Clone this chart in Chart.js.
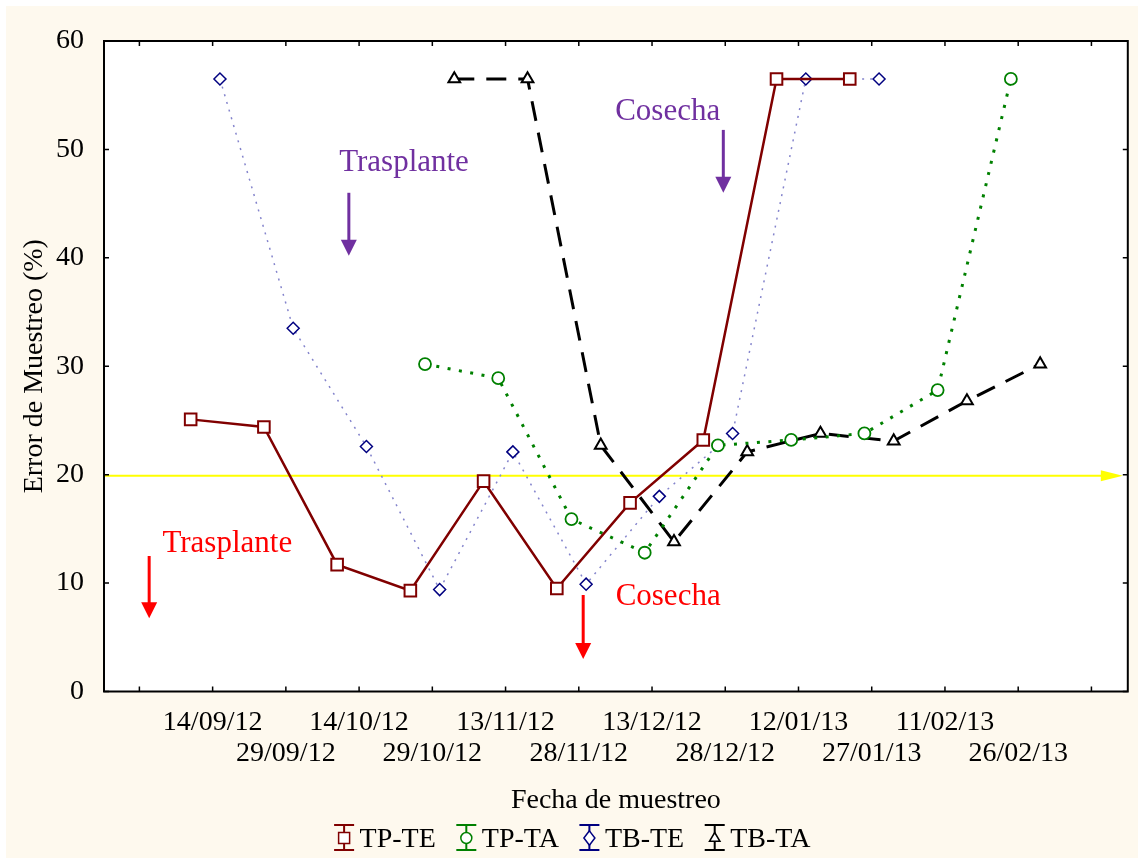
<!DOCTYPE html>
<html>
<head>
<meta charset="utf-8">
<title>Error de Muestreo</title>
<script src="https://cdn.jsdelivr.net/npm/chart.js"></script>
<style>
  html, body { margin: 0; padding: 0; background: #fff; }
  #wrap { width: 1138px; height: 858px; }
</style>
</head>
<body>
<div id="wrap"><canvas id="grafico" width="1138" height="858"></canvas></div>
<script>
// fechas de muestreo (dd/mm/aa) y error de muestreo (%) por tratamiento
var fechasTPTE = ['09/09/12', '24/09/12', '09/10/12', '24/10/12', '08/11/12', '23/11/12', '08/12/12', '23/12/12', '07/01/13', '22/01/13'];
var errorTPTE  = [25.1, 24.4, 11.7, 9.3, 19.4, 9.5, 17.4, 23.2, 56.5, 56.5];

var fechasTPTA = ['27/10/12', '11/11/12', '26/11/12', '11/12/12', '26/12/12', '10/01/13', '25/01/13', '09/02/13', '24/02/13'];
var errorTPTA  = [30.2, 28.9, 15.9, 12.8, 22.7, 23.2, 23.8, 27.8, 56.5];

var fechasTBTE = ['15/09/12', '30/09/12', '15/10/12', '30/10/12', '14/11/12', '29/11/12', '14/12/12', '29/12/12', '13/01/13', '28/01/13'];
var errorTBTE  = [56.5, 33.5, 22.6, 9.4, 22.1, 9.9, 18.0, 23.8, 56.5, 56.5];

var fechasTBTA = ['02/11/12', '17/11/12', '02/12/12', '17/12/12', '01/01/13', '16/01/13', '31/01/13', '15/02/13', '02/03/13'];
var errorTBTA  = [56.5, 56.5, 22.7, 13.8, 22.1, 23.8, 23.1, 26.8, 30.2];

var etiquetasX = ['14/09/12', '29/09/12', '14/10/12', '29/10/12', '13/11/12', '28/11/12',
                  '13/12/12', '28/12/12', '12/01/13', '27/01/13', '11/02/13', '26/02/13'];
var umbral = 20;

// notas: posicion en dias desde 30/08/12 y en % de error
var notas = [
    {texto: 'Trasplante', color: '#7030a0', tx: 54.2, ty: 48.0, fx: 42.9, f1: 46.0, f2: 40.2},
    {texto: 'Cosecha', color: '#7030a0', tx: 108.2, ty: 52.7, fx: 119.6, f1: 51.8, f2: 46.0},
    {texto: 'Trasplante', color: '#ff0000', tx: 18.0, ty: 12.9, fx: 2.0, f1: 12.5, f2: 6.75},
    {texto: 'Cosecha', color: '#ff0000', tx: 108.3, ty: 8.0, fx: 90.9, f1: 8.9, f2: 3.0}
];

var FUENTE = "'Liberation Serif', 'Times New Roman', serif";
var ORIGEN = Date.UTC(2012, 7, 30);

function dia(f) {
    var p = f.split('/');
    // muestras tomadas a mediodia
    return (Date.UTC(2000 + Number(p[2]), Number(p[1]) - 1, Number(p[0]), 12) - ORIGEN) / 864e5;
}
function fecha(d) {
    var t = new Date(ORIGEN + Math.round(d) * 864e5);
    return ('0' + t.getUTCDate()).slice(-2) + '/' + ('0' + (t.getUTCMonth() + 1)).slice(-2) + '/' + String(t.getUTCFullYear()).slice(-2);
}
function puntos(fechas, valores) {
    return fechas.map(function (f, i) { return {x: dia(f), y: valores[i]}; });
}

Chart.defaults.font.family = FUENTE;
Chart.defaults.font.size = 28;
Chart.defaults.color = '#000';

var fondo = {
    id: 'fondo',
    beforeDraw: function (chart) {
        var ctx = chart.ctx, ca = chart.chartArea;
        ctx.save();
        ctx.fillStyle = '#fff';
        ctx.fillRect(0, 0, chart.width, chart.height);
        ctx.fillStyle = '#fef9ee';
        ctx.fillRect(6, 6, chart.width - 6, chart.height - 6);
        ctx.fillStyle = '#fff';
        ctx.fillRect(ca.left, ca.top, ca.right - ca.left, ca.bottom - ca.top);
        ctx.restore();
    }
};

var lineaUmbral = {
    id: 'lineaUmbral',
    beforeDatasetsDraw: function (chart) {
        var ctx = chart.ctx, ca = chart.chartArea;
        var y = chart.scales.y.getPixelForValue(umbral) + 1;
        var punta = ca.right - 5;
        ctx.save();
        ctx.strokeStyle = '#ffff00';
        ctx.fillStyle = '#ffff00';
        ctx.lineWidth = 2;
        ctx.beginPath();
        ctx.moveTo(ca.left, y);
        ctx.lineTo(punta - 18, y);
        ctx.stroke();
        ctx.beginPath();
        ctx.moveTo(punta, y);
        ctx.lineTo(punta - 22, y - 5.5);
        ctx.lineTo(punta - 22, y + 5.5);
        ctx.closePath();
        ctx.fill();
        ctx.restore();
    }
};

var marco = {
    id: 'marco',
    afterDatasetsDraw: function (chart) {
        var ctx = chart.ctx, ca = chart.chartArea;
        var sx = chart.scales.x, sy = chart.scales.y;
        ctx.save();
        ctx.strokeStyle = '#000';
        ctx.lineWidth = 1.5;
        ctx.beginPath();
        sx.ticks.forEach(function (t) {
            var x = sx.getPixelForValue(t.value);
            ctx.moveTo(x, ca.top); ctx.lineTo(x, ca.top + 5);
            ctx.moveTo(x, ca.bottom); ctx.lineTo(x, ca.bottom - 5);
        });
        sy.ticks.forEach(function (t) {
            var y = sy.getPixelForValue(t.value);
            ctx.moveTo(ca.left, y); ctx.lineTo(ca.left + 5, y);
            ctx.moveTo(ca.right, y); ctx.lineTo(ca.right - 5, y);
        });
        ctx.stroke();
        ctx.lineWidth = 2;
        ctx.strokeRect(ca.left, ca.top, ca.right - ca.left, ca.bottom - ca.top);
        ctx.restore();
    }
};

var anotaciones = {
    id: 'anotaciones',
    afterDatasetsDraw: function (chart) {
        var ctx = chart.ctx, sx = chart.scales.x, sy = chart.scales.y;
        ctx.save();
        notas.forEach(function (n) {
            ctx.fillStyle = n.color;
            ctx.strokeStyle = n.color;
            ctx.font = '31px ' + FUENTE;
            ctx.textAlign = 'center';
            ctx.textBaseline = 'alphabetic';
            ctx.fillText(n.texto, sx.getPixelForValue(n.tx), sy.getPixelForValue(n.ty));
            var x = sx.getPixelForValue(n.fx);
            var y1 = sy.getPixelForValue(n.f1), y2 = sy.getPixelForValue(n.f2);
            ctx.lineWidth = 3;
            ctx.beginPath();
            ctx.moveTo(x, y1);
            ctx.lineTo(x, y2 - 14);
            ctx.stroke();
            ctx.beginPath();
            ctx.moveTo(x, y2);
            ctx.lineTo(x - 8, y2 - 16);
            ctx.lineTo(x + 8, y2 - 16);
            ctx.closePath();
            ctx.fill();
        });
        ctx.restore();
    }
};

function marcador(ctx, estilo, x, y, r) {
    ctx.beginPath();
    if (estilo === 'rect') {
        ctx.rect(x - r, y - r, 2 * r, 2 * r);
    } else if (estilo === 'circle') {
        ctx.arc(x, y, r, 0, Math.PI * 2);
    } else if (estilo === 'rectRot') {
        ctx.moveTo(x, y - r * 1.3); ctx.lineTo(x + r, y); ctx.lineTo(x, y + r * 1.3); ctx.lineTo(x - r, y);
        ctx.closePath();
    } else {
        ctx.moveTo(x, y - r); ctx.lineTo(x + r * 0.95, y + r * 0.6); ctx.lineTo(x - r * 0.95, y + r * 0.6);
        ctx.closePath();
    }
    ctx.fill();
    ctx.stroke();
}

var leyenda = {
    id: 'leyenda',
    afterDraw: function (chart) {
        var ctx = chart.ctx;
        var ds = chart.data.datasets;
        ctx.save();
        ctx.font = '28px ' + FUENTE;
        ctx.textAlign = 'left';
        ctx.textBaseline = 'alphabetic';
        var icono = 21, hueco = 5, sep = 20;
        var total = 0;
        ds.forEach(function (d, i) {
            total += icono + hueco + ctx.measureText(d.label).width + (i ? sep : 0);
        });
        var x = (chart.width + 6) / 2 - total / 2;
        var yc = 838;
        ds.forEach(function (d) {
            var cx = x + icono / 2;
            ctx.strokeStyle = d.pointBorderColor;
            ctx.lineWidth = 2;
            ctx.beginPath();
            ctx.moveTo(cx - 10, yc - 13); ctx.lineTo(cx + 10, yc - 13);
            ctx.moveTo(cx - 10, yc + 12); ctx.lineTo(cx + 10, yc + 12);
            ctx.moveTo(cx, yc - 13); ctx.lineTo(cx, yc + 12);
            ctx.stroke();
            ctx.fillStyle = '#fff';
            ctx.lineWidth = 1.5;
            marcador(ctx, d.pointStyle, cx, yc, 5.5);
            ctx.fillStyle = '#000';
            ctx.fillText(d.label, x + icono + hueco, 846.5);
            x += icono + hueco + ctx.measureText(d.label).width + sep;
        });
        ctx.restore();
    }
};

new Chart(document.getElementById('grafico'), {
    type: 'line',
    data: {
        datasets: [
            {
                label: 'TP-TE',
                data: puntos(fechasTPTE, errorTPTE),
                borderColor: '#800000',
                borderWidth: 2.5,
                pointStyle: 'rect',
                pointRadius: 8.2,
                pointBorderWidth: 2,
                pointBorderColor: '#800000',
                pointBackgroundColor: '#fff'
            },
            {
                label: 'TP-TA',
                data: puntos(fechasTPTA, errorTPTA),
                borderColor: '#008000',
                borderWidth: 3,
                borderDash: [3, 8.5],
                pointStyle: 'circle',
                pointRadius: 6,
                pointBorderWidth: 1.8,
                pointBorderColor: '#008000',
                pointBackgroundColor: '#fff'
            },
            {
                label: 'TB-TE',
                data: puntos(fechasTBTE, errorTBTE),
                borderColor: '#8484cc',
                borderWidth: 1.5,
                borderDash: [2, 6],
                pointStyle: 'rectRot',
                pointRadius: 6,
                pointBorderWidth: 1.5,
                pointBorderColor: '#000080',
                pointBackgroundColor: '#fff'
            },
            {
                label: 'TB-TA',
                data: puntos(fechasTBTA, errorTBTA),
                borderColor: '#000',
                borderWidth: 3,
                borderDash: [20, 12],
                pointStyle: 'triangle',
                pointRadius: 6.8,
                pointBorderWidth: 2,
                pointBorderColor: '#000',
                pointBackgroundColor: '#fff'
            }
        ]
    },
    options: {
        responsive: false,
        animation: false,
        devicePixelRatio: 1,
        layout: { padding: { top: 41, right: 10, left: 0, bottom: 0 } },
        plugins: {
            legend: { display: false },
            tooltip: { enabled: false }
        },
        scales: {
            x: {
                type: 'linear',
                min: -7.25,
                max: 202.45,
                grid: { display: false },
                border: { display: false },
                ticks: {
                    stepSize: 15,
                    includeBounds: false,
                    autoSkip: false,
                    maxRotation: 0,
                    minRotation: 0,
                    maxTicksLimit: 30,
                    padding: 7,
                    font: { size: 28, lineHeight: 1.132 },
                    callback: function (v) {
                        var f = fecha(v);
                        var i = etiquetasX.indexOf(f);
                        if (i < 0) return '';
                        return i % 2 === 0 ? [f] : ['', f];
                    }
                },
                title: {
                    display: true,
                    text: 'Fecha de muestreo',
                    font: { size: 28 },
                    padding: { top: 0, bottom: 40.7 }
                },
                afterFit: function (scale) { scale.height = 166.5; }
            },
            y: {
                min: 0,
                max: 60,
                grid: { display: false },
                border: { display: false },
                ticks: { stepSize: 10, padding: 12, font: { size: 28 } },
                title: {
                    display: true,
                    text: 'Error de Muestreo (%)',
                    font: { size: 28 },
                    padding: { top: 17.5, bottom: 0 }
                },
                afterFit: function (scale) { scale.width = 104; }
            }
        }
    },
    plugins: [fondo, lineaUmbral, marco, anotaciones, leyenda]
});
</script>
</body>
</html>
